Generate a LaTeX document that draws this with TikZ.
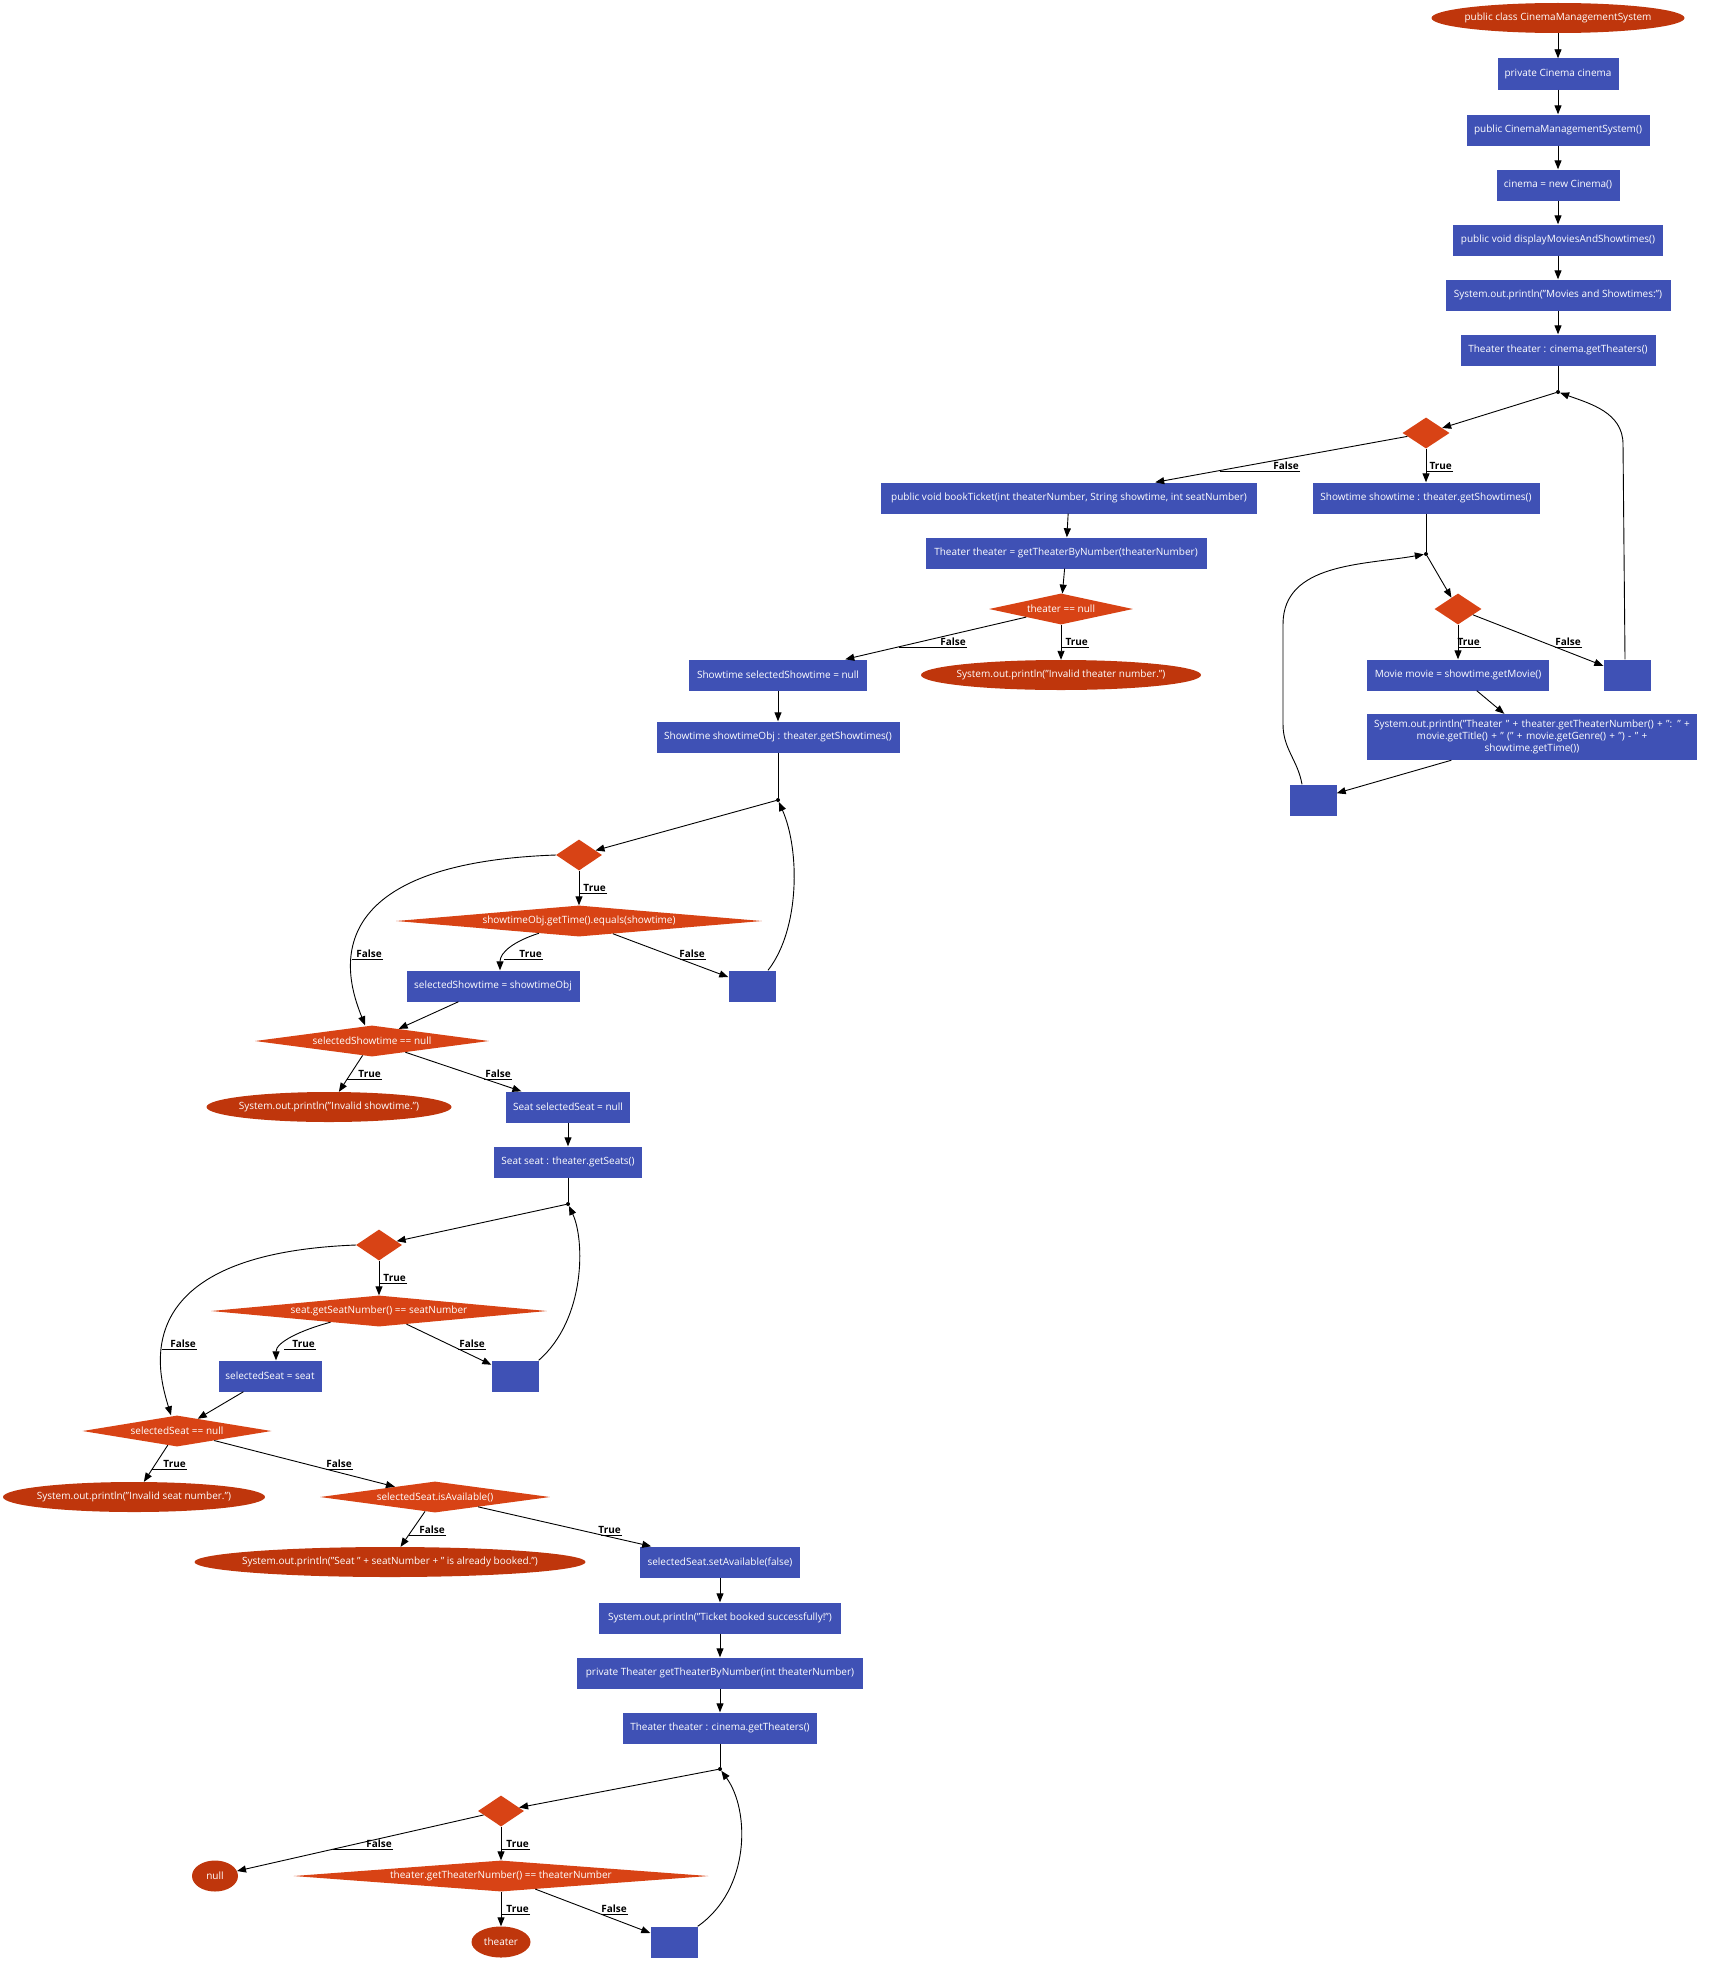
\documentclass[tikz,border=0pt]{standalone}
\usepackage{fontspec}
\setmainfont{Open Sans}
\usetikzlibrary{shapes.geometric,arrows.meta,calc}
\definecolor{boxblue}{HTML}{3F51B5}
\definecolor{diaorange}{HTML}{D84315}
\definecolor{ellred}{HTML}{BF360C}
\newcommand{\tx}[1]{\makebox[0pt]{#1}}
\begin{document}
\begin{tikzpicture}[x=1pt,y=-1pt,
  every node/.style={font=\fontsize{10}{11.7}\selectfont},
  stmt/.style={rectangle, fill=boxblue, text=white, minimum height=31pt, inner sep=0pt},
  cond/.style={diamond, fill=diaorange, text=white, minimum height=31pt, inner sep=0pt},
  term/.style={ellipse, fill=ellred, text=white, minimum height=30pt, inner sep=0pt},
  jpt/.style={circle, fill=black, inner sep=0pt, minimum size=4pt},
  farrow/.style={draw=black, line width=0.9pt, -{Triangle[length=9pt,width=7pt]}},
  pline/.style={draw=black, line width=0.9pt},
  lbl/.style={font=\fontsize{10}{12}\selectfont\bfseries, inner sep=1pt, anchor=south east},
]
\useasboundingbox (0,0) rectangle (1714,1975);

% ---------- top column ----------
\node[term, minimum width=253pt] (n1) at (1558,18) {\tx{public class CinemaManagementSystem}};
\node[stmt, minimum width=121pt] (n2) at (1558,74) {\tx{private Cinema cinema}};
\node[stmt, minimum width=183pt] (n3) at (1558,130) {\tx{public CinemaManagementSystem()}};
\node[stmt, minimum width=123pt] (n4) at (1558,185) {\tx{cinema = new Cinema()}};
\node[stmt, minimum width=210pt] (n5) at (1558,240) {\tx{public void displayMoviesAndShowtimes()}};
\node[stmt, minimum width=225pt] (n6) at (1558,295) {\tx{System.out.println("Movies and Showtimes:")}};
\node[stmt, minimum width=195pt] (n7) at (1558,350) {\tx{Theater theater : cinema.getTheaters()}};
\node[jpt] (j1) at (1558,392) {};
\node[cond, minimum width=47pt] (d1) at (1426,433) {};
\node[stmt, minimum width=227pt] (n8) at (1426,498) {\tx{Showtime showtime : theater.getShowtimes()}};
\node[jpt] (j2) at (1426,554) {};
\node[cond, minimum width=47pt] (d2) at (1458,609) {};
\node[stmt, minimum width=182pt] (n9) at (1458,675) {\tx{Movie movie = showtime.getMovie()}};
\node[stmt, minimum width=47pt] (e2) at (1627,675) {};
\node[stmt, minimum width=330pt, minimum height=46pt, text width=328pt, align=center] (n10) at (1532,737)
  {System.out.println("Theater " + theater.getTheaterNumber() + ": " +\\ movie.getTitle() + " (" + movie.getGenre() + ") - " +\\ showtime.getTime())};
\node[stmt, minimum width=47pt] (e1) at (1313,800) {};

% ---------- bookTicket column ----------
\node[stmt, minimum width=376pt] (b1) at (1069,498) {\tx{public void bookTicket(int theaterNumber, String showtime, int seatNumber)}};
\node[stmt, minimum width=281pt] (b2) at (1066,553) {\tx{Theater theater = getTheaterByNumber(theaterNumber)}};
\node[cond, minimum width=144pt] (b3) at (1061,609) {\tx{theater == null}};
\node[term, minimum width=280pt] (b4) at (1061,675) {\tx{System.out.println("Invalid theater number.")}};
\node[stmt, minimum width=178pt] (b5) at (778,675) {\tx{Showtime selectedShowtime = null}};
\node[stmt, minimum width=243pt] (b6) at (778,737) {\tx{Showtime showtimeObj : theater.getShowtimes()}};
\node[jpt] (j3) at (778,800) {};
\node[cond, minimum width=46pt] (d3) at (579,855) {};
\node[cond, minimum width=366pt] (b7) at (579,921) {\tx{showtimeObj.getTime().equals(showtime)}};
\node[stmt, minimum width=173pt] (b8) at (493,986) {\tx{selectedShowtime = showtimeObj}};
\node[stmt, minimum width=47pt] (e3) at (752,986) {};
\node[cond, minimum width=234pt] (b9) at (372,1041) {\tx{selectedShowtime == null}};
\node[term, minimum width=245pt] (b10) at (329,1107) {\tx{System.out.println("Invalid showtime.")}};
\node[stmt, minimum width=124pt] (b11) at (568,1107) {\tx{Seat selectedSeat = null}};
\node[stmt, minimum width=148pt] (b12) at (568,1162) {\tx{Seat seat : theater.getSeats()}};
\node[jpt] (j4) at (568,1204) {};
\node[cond, minimum width=46pt] (d4) at (379,1245) {};
\node[cond, minimum width=336pt] (b13) at (379,1311) {\tx{seat.getSeatNumber() == seatNumber}};
\node[stmt, minimum width=103pt] (b14) at (270,1376) {\tx{selectedSeat = seat}};
\node[stmt, minimum width=47pt] (e4) at (515,1376) {};
\node[cond, minimum width=189pt] (b15) at (177,1431) {\tx{selectedSeat == null}};
\node[term, minimum width=262pt] (b16) at (134,1497) {\tx{System.out.println("Invalid seat number.")}};
\node[cond, minimum width=230pt] (b17) at (435,1497) {\tx{selectedSeat.isAvailable()}};
\node[term, minimum width=391pt] (b18) at (390,1562) {\tx{System.out.println("Seat " + seatNumber + " is already booked.")}};
\node[stmt, minimum width=160pt] (b19) at (720,1562) {\tx{selectedSeat.setAvailable(false)}};
\node[stmt, minimum width=242pt] (b20) at (720,1618) {\tx{System.out.println("Ticket booked successfully!")}};
\node[stmt, minimum width=286pt] (b21) at (720,1673) {\tx{private Theater getTheaterByNumber(int theaterNumber)}};
\node[stmt, minimum width=194pt] (b22) at (720,1728) {\tx{Theater theater : cinema.getTheaters()}};
\node[jpt] (j5) at (720,1769) {};
\node[cond, minimum width=46pt] (d5) at (501,1811) {};
\node[term, minimum width=46pt, minimum height=31pt] (b23) at (215,1876) {\tx{null}};
\node[cond, minimum width=415pt] (b24) at (501,1876) {\tx{theater.getTheaterNumber() == theaterNumber}};
\node[term, minimum width=59pt, minimum height=31pt] (b25) at (501,1942) {\tx{theater}};
\node[stmt, minimum width=47pt] (e5) at (674,1942) {};

% ---------- edges: top ----------
\draw[farrow] (n1) -- (n2);
\draw[farrow] (n2) -- (n3);
\draw[farrow] (n3) -- (n4);
\draw[farrow] (n4) -- (n5);
\draw[farrow] (n5) -- (n6);
\draw[farrow] (n6) -- (n7);
\draw[pline] (n7) -- (j1);
\draw[farrow] (j1) -- (d1);
\draw[farrow] (d1) -- (b1) coordinate[pos=0.742] (c1);
\draw[farrow] (d1) -- (n8) coordinate[pos=0.66] (c2);
\draw[pline] (n8) -- (j2);
\draw[farrow] (j2) -- (d2);
\draw[farrow] (d2) -- (n9) coordinate[pos=0.66] (c3);
\draw[farrow] (d2) -- (e2) coordinate[pos=0.63] (c4);
\draw[farrow] (n9) -- (n10);
\draw[farrow] (n10) -- (e1);
\draw[farrow] ([xshift=-11pt]e1.north) to[out=100,in=-90] ++(-19,-60) -- ++(0,-100) to[out=90,in=190] (j2);
\draw[farrow] ([xshift=-2pt]e2.north) -- ++(-2,-215) to[out=90,in=-20] (j1);

% ---------- edges: bookTicket ----------
\draw[farrow] (b1) -- (b2);
\draw[farrow] (b2) -- (b3);
\draw[farrow] (b3) -- (b4) coordinate[pos=0.63] (c5);
\draw[farrow] (b3) -- (b5) coordinate[pos=0.705] (c6);
\draw[farrow] (b5) -- (b6);
\draw[pline] (b6) -- (j3);
\draw[farrow] (j3) -- (d3);
\draw[farrow] (d3) -- (b7) coordinate[pos=0.64] (c7);
\draw[farrow] (d3.west) .. controls +(-256,9) and +(-14,-36) .. ([xshift=-7pt]b9.north) coordinate[pos=0.63] (c8);
\draw[farrow] (b7.197) .. controls +(-25,8) and +(0,-18) .. ([xshift=7pt]b8.north) coordinate[pos=0.7] (c9);
\draw[farrow] (b7) -- (e3) coordinate[pos=0.58] (c10);
\draw[farrow] ([xshift=16pt]e3.north) .. controls +(32,-41) and +(22,50) .. (j3);
\draw[farrow] (b8) -- (b9);
\draw[farrow] (b9) -- (b10) coordinate[pos=0.65] (c11);
\draw[farrow] (b9) -- (b11) coordinate[pos=0.68] (c12);
\draw[farrow] (b11) -- (b12);
\draw[pline] (b12) -- (j4);
\draw[farrow] (j4) -- (d4);
\draw[farrow] (d4) -- (b13) coordinate[pos=0.64] (c13);
\draw[farrow] (d4.west) .. controls +(-235,9) and +(-12,-40) .. ([xshift=-6pt]b15.north) coordinate[pos=0.63] (c14);
\draw[farrow] (b13.193) .. controls +(-30,8) and +(0,-18) .. ([xshift=6pt]b14.north) coordinate[pos=0.65] (c15);
\draw[farrow] (b13) -- (e4) coordinate[pos=0.61] (c16);
\draw[farrow] (e4.north east) .. controls +(47,-41) and +(17,36) .. (j4);
\draw[farrow] (b14) -- (b15);
\draw[farrow] (b15) -- (b16) coordinate[pos=0.66] (c17);
\draw[farrow] (b15) -- (b17) coordinate[pos=0.62] (c18);
\draw[farrow] (b17) -- (b18) coordinate[pos=0.67] (c19);
\draw[farrow] (b17) -- (b19) coordinate[pos=0.71] (c20);
\draw[farrow] (b19) -- (b20);
\draw[farrow] (b20) -- (b21);
\draw[farrow] (b21) -- (b22);
\draw[pline] (b22) -- (j5);
\draw[farrow] (j5) -- (d5);
\draw[farrow] (d5) -- (b23) coordinate[pos=0.61] (c21);
\draw[farrow] (d5) -- (b24) coordinate[pos=0.66] (c22);
\draw[farrow] (b24) -- (b25) coordinate[pos=0.63] (c23);
\draw[farrow] (b24) -- (e5) coordinate[pos=0.57] (c24);
\draw[farrow] (e5.north east) .. controls +(53,-37) and +(30,41) .. (j5);

% ---------- edge labels ----------
\foreach \c/\x/\y/\t [count=\i] in {
  c1/1300/471/False, c2/1453/471/True, c3/1481/647/True, c4/1582/647/False,
  c5/1089/647/True, c6/967/647/False, c7/607/893/True, c8/383/959/False,
  c9/543/959/True, c10/706/959/False, c11/382/1079/True, c12/512/1079/False,
  c13/407/1283/True, c14/197/1349/False, c15/316/1349/True, c16/486/1349/False,
  c17/187/1469/True, c18/353/1469/False, c19/446/1535/False, c20/622/1535/True,
  c21/393/1849/False, c22/530/1849/True, c23/530/1914/True, c24/628/1914/False}{
  \node[lbl] (l\i) at (\x,\y) {\t};
  \draw[pline] (l\i.south east) -- (l\i.south east -| \c);
}
\end{tikzpicture}
\end{document}
